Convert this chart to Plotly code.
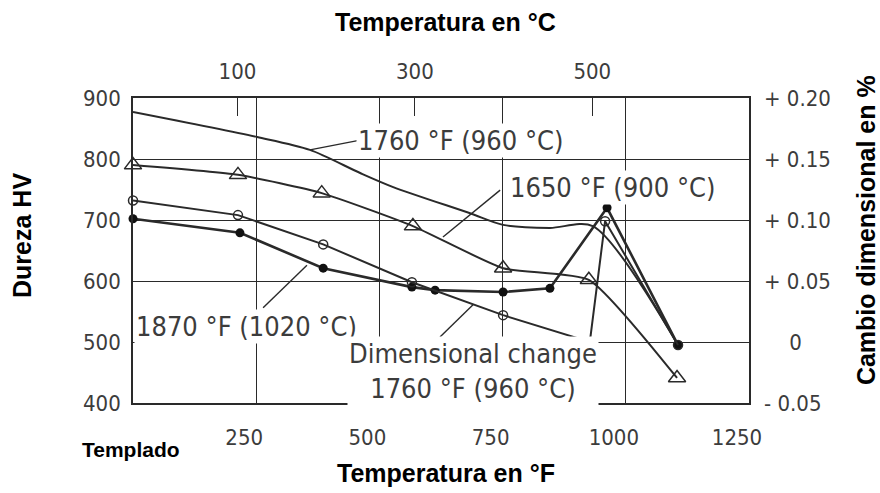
import plotly.graph_objects as go

# ---------------- data ----------------
# temperatures in °F, hardness in HV
temp_1760 = [0, 252, 359, 461, 528, 684, 751, 846, 933, 1106]
hv_1760 = [877, 836, 815, 777, 754, 711, 692, 687, 690, 495]

temp_1650 = [0, 213, 383, 568, 751, 925, 1104]
hv_1650 = [790, 774, 744, 690, 621, 602, 441]

temp_1870 = [0, 217, 386, 566, 613, 751, 846, 962, 1106]
hv_1870 = [702, 679, 621, 590, 585, 582, 588, 720, 495]

# dimensional change (%) for 1760 °F (960 °C)
temp_dim = [0, 213, 386, 566, 751, 927, 958, 1106]
dim_pct = [0.116, 0.104, 0.080, 0.049, 0.022, 0.0, 0.099, -0.0025]

f_ticks = [250, 500, 750, 1000, 1250]
c_ticks = [100, 300, 500]
hv_ticks = [400, 500, 600, 700, 800, 900]
dim_ticks = [-0.05, 0.0, 0.05, 0.10, 0.15, 0.20]
dim_ticktext = ["- 0.05", "\u2007\u20070", "+ 0.05", "+ 0.10", "+ 0.15", "+ 0.20"]

F_RANGE = [0, 1250]
HV_RANGE = [400, 900]
DIM_RANGE = [-0.05, 0.20]
C_RANGE = [(F_RANGE[0] - 32) * 5 / 9, (F_RANGE[1] - 32) * 5 / 9]

# ---------------- styles ----------------
ink = "#2a2a2a"
txt = "#3c3c3c"
narrow = "Liberation Sans Narrow, DejaVu Sans Condensed, Arial Narrow, sans-serif"
boldf = "Liberation Sans, Arial, sans-serif"

fig = go.Figure()

fig.add_trace(go.Scatter(x=temp_1760, y=hv_1760, mode="lines",
                         line=dict(color=ink, width=2, shape="spline", smoothing=0.8),
                         cliponaxis=False))
fig.add_trace(go.Scatter(x=temp_1650, y=hv_1650, mode="lines+markers",
                         line=dict(color=ink, width=2, shape="spline", smoothing=0.5),
                         marker=dict(symbol="triangle-up-open", size=15, color=ink,
                                     line=dict(width=1.5)), cliponaxis=False))
fig.add_trace(go.Scatter(x=temp_1870, y=hv_1870, mode="lines+markers",
                         line=dict(color=ink, width=2.6),
                         marker=dict(symbol="circle", size=9, color="#111"),
                         cliponaxis=False))
fig.add_trace(go.Scatter(x=temp_dim, y=dim_pct, mode="lines+markers", yaxis="y2",
                         line=dict(color=ink, width=2),
                         marker=dict(symbol="circle-open", size=9, color=ink,
                                     line=dict(width=1.5)), cliponaxis=False))
# invisible trace to carry the °C axis
fig.add_trace(go.Scatter(x=C_RANGE, y=HV_RANGE, xaxis="x2", mode="markers",
                         marker=dict(opacity=0), hoverinfo="skip"))

tick_font = dict(family=narrow, size=22, color=txt)

fig.update_layout(
    width=880, height=493, autosize=False,
    margin=dict(l=133, r=131, t=98, b=90, autoexpand=False),
    plot_bgcolor="white", paper_bgcolor="white",
    showlegend=False,
    xaxis=dict(range=F_RANGE, tickvals=f_ticks, ticks="", showgrid=True,
               gridcolor=ink, gridwidth=1.4, zeroline=False,
               showline=True, mirror=True, linecolor=ink, linewidth=1.6,
               tickfont=tick_font, ticklabelstandoff=14, ticklabelshift=-12),
    xaxis2=dict(range=C_RANGE, overlaying="x", side="top", tickvals=c_ticks,
                ticks="inside", ticklen=18, tickwidth=1.4, tickcolor=ink,
                showgrid=False, zeroline=False, showline=False,
                tickfont=tick_font, ticklabelstandoff=14),
    yaxis=dict(range=HV_RANGE, tickvals=hv_ticks, ticks="", showgrid=True,
               gridcolor=ink, gridwidth=1.4, zeroline=False,
               showline=True, mirror=True, linecolor=ink, linewidth=1.6,
               tickfont=tick_font, ticklabelstandoff=6),
    yaxis2=dict(range=DIM_RANGE, overlaying="y", side="right", tickvals=dim_ticks,
                ticktext=dim_ticktext, ticks="", showgrid=False, zeroline=False,
                showline=False, tickfont=tick_font, ticklabelstandoff=14),
)

lab_font = dict(family=narrow, size=27, color=txt)
title_font = dict(family=boldf, size=25, color="#000", weight="bold")

annos = [
    # curve labels (data coordinates)
    dict(x=665, y=831, text="1760 °F (960 °C)", font=lab_font),
    dict(x=972, y=754, text="1650 °F (900 °C)", font=lab_font),
    dict(x=231, y=526, text="1870 °F (1020 °C)", font=lab_font),
    dict(x=690, y=452, text="Dimensional change<br>1760 °F (960 °C)", font=lab_font),
]
for a in annos:
    a.update(xref="x", yref="y", showarrow=False, bgcolor="white", borderpad=1,
             xanchor="center", yanchor="middle")

titles = [
    dict(x=0.508, y=1.25, text="Temperatura en °C", font=title_font),
    dict(x=0.508, y=-0.229, text="Temperatura en °F", font=title_font),
    dict(x=-0.18, y=0.548, text="Dureza HV", font=title_font, textangle=-90),
    dict(x=1.19, y=0.567, text="Cambio dimensional en %", font=title_font, textangle=-90),
    dict(x=-0.003, y=-0.151, text="Templado",
         font=dict(family=boldf, size=21, color="#000", weight="bold")),
]
for a in titles:
    a.update(xref="paper", yref="paper", showarrow=False,
             xanchor="center", yanchor="middle")

fig.update_layout(annotations=annos + titles)

# pointer lines from labels to curves
pointers = [
    (359, 815, 461, 831),
    (629, 672, 745, 749),
    (264, 556, 353, 626),
    (623, 508, 690, 561),
]
fig.update_layout(shapes=[
    dict(type="line", xref="x", yref="y", x0=a, y0=b, x1=c, y1=d,
         line=dict(color=ink, width=1.4), layer="above")
    for a, b, c, d in pointers
])

# remove the browser's default 8px page margin so the figure fills the window
fig.write_html("out.html",
               config={"displayModeBar": False},
               post_script="document.body.style.margin='0';"
                           "document.body.style.overflow='hidden';")
